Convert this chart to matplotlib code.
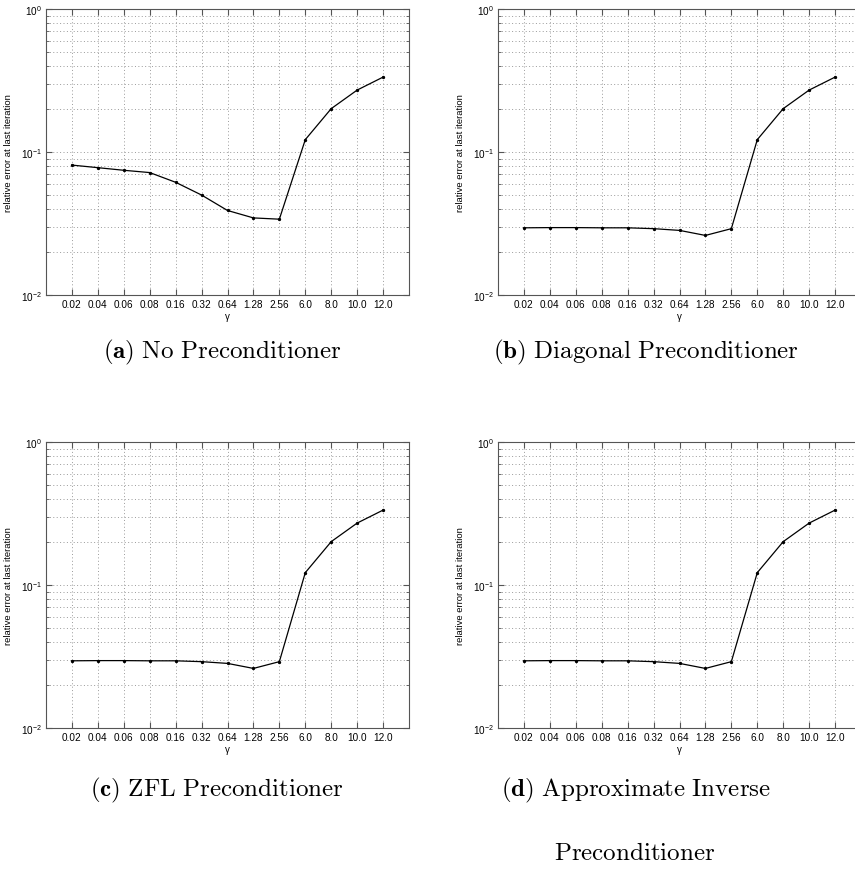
import numpy as np
import matplotlib
matplotlib.use("Agg")
import matplotlib.pyplot as plt

plt.rcParams['font.family'] = ['Liberation Sans', 'DejaVu Sans']
plt.rcParams['mathtext.fontset'] = 'cm'
plt.rcParams['mathtext.default'] = 'regular'

# gamma values used as categorical x positions
gamma_labels = ["0.02", "0.04", "0.06", "0.08", "0.16", "0.32", "0.64",
                "1.28", "2.56", "6.0", "8.0", "10.0", "12.0"]

# relative error at the last iteration for each preconditioner
err_none = [0.081, 0.0777, 0.0745, 0.0718, 0.0614, 0.050, 0.039,
            0.0346, 0.0339, 0.122, 0.201, 0.271, 0.334]
err_diag = [0.0295, 0.0296, 0.0296, 0.0295, 0.0295, 0.0291, 0.0283,
            0.0261, 0.0291, 0.122, 0.201, 0.271, 0.334]
err_zfl = [0.0295, 0.0296, 0.0296, 0.0295, 0.0295, 0.0291, 0.0283,
           0.0261, 0.0291, 0.122, 0.201, 0.271, 0.334]
err_ainv = [0.0295, 0.0296, 0.0296, 0.0295, 0.0295, 0.0291, 0.0283,
            0.0261, 0.0291, 0.122, 0.201, 0.271, 0.334]

captions = [r"$\mathbf{(a)}\ \mathrm{No\ Preconditioner}$",
            r"$\mathbf{(b)}\ \mathrm{Diagonal\ Preconditioner}$",
            r"$\mathbf{(c)}\ \mathrm{ZFL\ Preconditioner}$",
            r"$\mathbf{(d)}\ \mathrm{Approximate\ Inverse}$"]

W, H = 855, 895
fig = plt.figure(figsize=(W / 100, H / 100), dpi=100)


def px_axes(left, top, width, height):
    return fig.add_axes([left / W, (H - top - height) / H, width / W, height / H])


def draw_panel(ax, values):
    x = np.arange(1, len(gamma_labels) + 1)
    ax.plot(x, values, color='black', lw=0.9, marker='.', ms=2.8)
    ax.set_yscale('log')
    ax.set_ylim(1e-2, 1e0)
    ax.set_xlim(0, len(gamma_labels) + 1)
    ax.set_xticks(x)
    ax.set_xticklabels(gamma_labels)
    ax.set_xticks([], minor=True)
    grid_kw = dict(ls=(0, (1, 2.5)), lw=0.7, color='#9a9a9a')
    ax.grid(True, which='major', axis='x', **grid_kw)
    ax.grid(True, which='both', axis='y', **grid_kw)
    ax.tick_params(which='both', direction='in', top=True, right=True,
                   labelsize=7.2, color='#555555', pad=3)
    ax.tick_params(which='major', length=4)
    ax.tick_params(which='minor', length=2)
    for s in ax.spines.values():
        s.set_color('#555555')
        s.set_linewidth(0.8)
    ax.set_ylabel("relative error at last iteration", fontsize=6.8, labelpad=6)
    ax.set_xlabel(r"$\gamma$", fontsize=7, labelpad=1)


panels = [(46, 10, err_none), (498, 10, err_diag),
          (46, 443, err_zfl), (498, 443, err_ainv)]
for left, top, vals in panels:
    ax = px_axes(left, top, 363, 286)
    draw_panel(ax, vals)

cap_kw = dict(fontsize=18, ha='center', va='center')
fig.text(222 / W, 1 - 352 / H, captions[0], **cap_kw)
fig.text(646 / W, 1 - 352 / H, captions[1], **cap_kw)
fig.text(217 / W, 1 - 790 / H, captions[2], **cap_kw)
fig.text(636 / W, 1 - 790 / H, captions[3], **cap_kw)
fig.text(635 / W, 1 - 853 / H, r"$\mathrm{Preconditioner}$", **cap_kw)

fig.savefig("out.png", dpi=100)
